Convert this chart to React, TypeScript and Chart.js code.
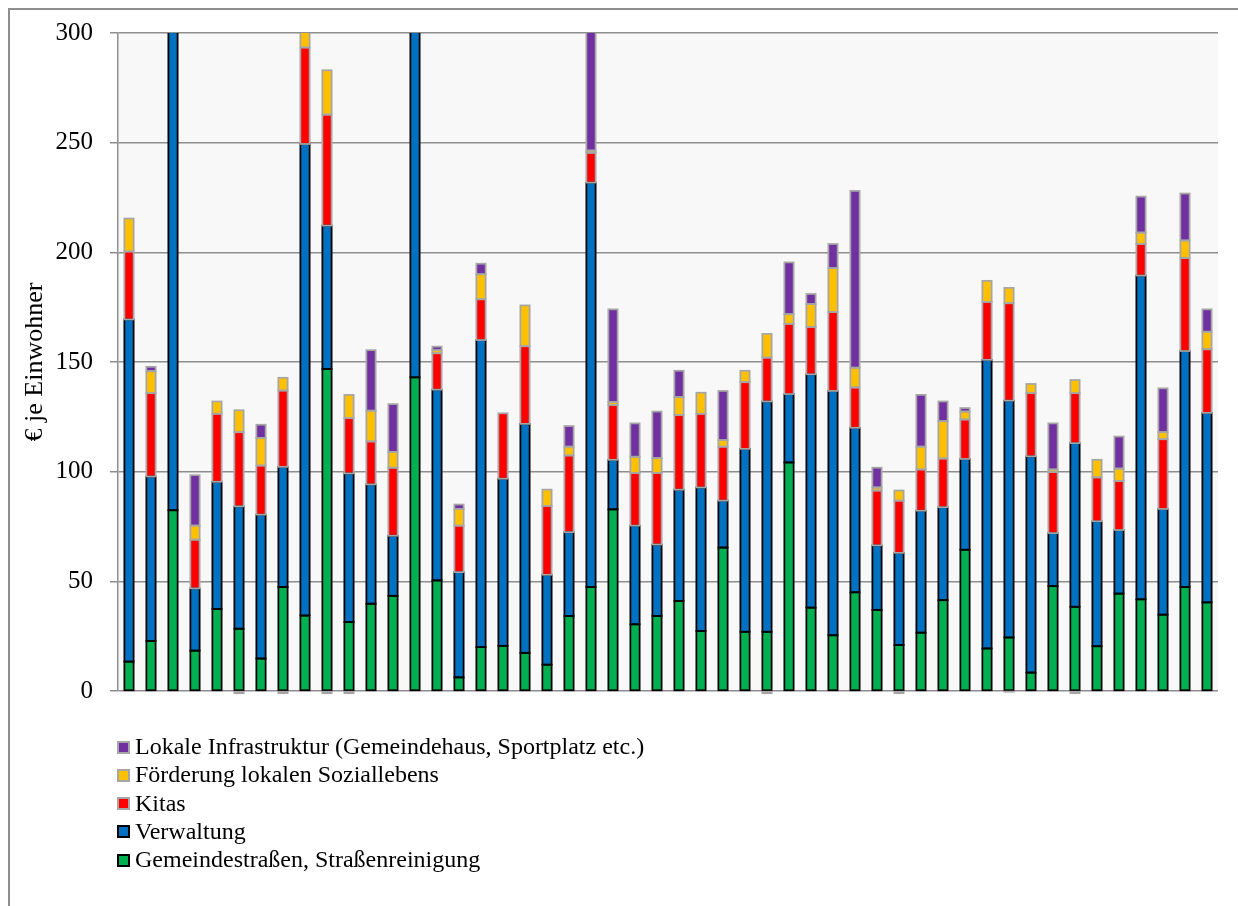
import React, { useEffect, useRef } from "react";
import { Chart, registerables } from "chart.js";

Chart.register(...registerables);

// Gemeinden (no visible labels on the category axis)
const gemeinden = [
  "1", "2", "3", "4", "5", "6", "7", "8", "9", "10",
  "11", "12", "13", "14", "15", "16", "17", "18", "19", "20",
  "21", "22", "23", "24", "25", "26", "27", "28", "29", "30",
  "31", "32", "33", "34", "35", "36", "37", "38", "39", "40",
  "41", "42", "43", "44", "45", "46", "47", "48", "49", "50",
];

// € je Einwohner per Aufgabenbereich
const strassen = [
  13.4, 22.8, 82.4, 18.4, 37.4, 28.4, 14.8, 47.4, 34.4, 146.8,
  31.4, 39.8, 43.4, 143, 50.4, 6.2, 20, 20.6, 17.4, 12,
  34.2, 47.4, 82.8, 30.4, 34.2, 41, 27.4, 65.4, 27, 27,
  104.2, 38, 25.4, 45, 37, 21, 26.6, 41.4, 64.4, 19.4,
  24.4, 8.4, 47.8, 38.4, 20.4, 44.4, 41.8, 34.8, 47.4, 40.4,
];
const verwaltung = [
  156, 75, 247.6, 28.4, 58, 55.8, 65.6, 54.8, 215, 65.4,
  67.8, 54.4, 27.4, 187, 87, 48, 140, 76.2, 104.4, 41,
  38.2, 184.4, 22.6, 45, 32.6, 50.8, 65.4, 21.4, 83.4, 105,
  31.2, 106.4, 111.4, 75, 29.4, 42, 55.6, 42.4, 41.4, 131.6,
  108, 98.6, 24.2, 74.6, 57, 29, 147.6, 48.2, 107.6, 86.4,
];
const kitas = [
  31, 38, null, 22.2, 31, 33.8, 22.4, 34.8, 44, 50.6,
  25.2, 19.6, 31, null, 16.6, 21.2, 18.6, 29.8, 35.4, 31.4,
  35, 13.6, 25, 24, 32.6, 34, 33.6, 24.6, 30.4, 20,
  32, 21.6, 36, 18.4, 25, 23.8, 18.8, 22.2, 18, 26.4,
  44.4, 28.8, 27.8, 22.8, 20, 22.4, 14.4, 31.8, 42.4, 29,
];
const sozialleben = [
  15, 10, null, 6.4, 5.6, 10, 12.6, 5.8, 11.6, 20.2,
  10.6, 14, 7.2, null, 1.4, 7.6, 11.4, null, 18.6, 7.4,
  4, 1, 1.4, 7.4, 6.8, 8.2, 9.6, 3, 5.2, 10.8,
  4.4, 10.4, 20, 9, 1.4, 4.6, 10.4, 17, 3.6, 9.6,
  7, 4.2, 1.2, 6, 8, 5.6, 5.2, 3.2, 8, 8,
];
const infrastruktur = [
  null, 2, null, 23, null, -1, 6, -1, null, -1,
  -1, 27.6, 21.8, null, 1.6, 2, 4.8, null, null, null,
  9.4, 73.6, 42.2, 15.2, 21.2, 12, null, 22.4, null, -1,
  23.6, 4.6, 11, 80.6, 9, -1, 23.6, 9, 1.6, null,
  -0.3, null, 21, -1, null, 14.6, 16.4, 20, 21.4, 10.2,
];

const yTicks = [0, 50, 100, 150, 200, 250, 300];

const SERIF = "'Liberation Serif', 'Times New Roman', serif";

type Serie = {
  label: string;
  data: (number | null)[];
  fill: string;
  border: string;
};

const serien: Serie[] = [
  { label: "Gemeindestraßen, Straßenreinigung", data: strassen, fill: "#00B050", border: "#000000" },
  { label: "Verwaltung", data: verwaltung, fill: "#0070C0", border: "#000000" },
  { label: "Kitas", data: kitas, fill: "#FF0000", border: "#A6A6A6" },
  { label: "Förderung lokalen Soziallebens", data: sozialleben, fill: "#FFC000", border: "#A6A6A6" },
  { label: "Lokale Infrastruktur (Gemeindehaus, Sportplatz etc.)", data: infrastruktur, fill: "#7030A0", border: "#A6A6A6" },
];

const OUTLINE = 1.75;
const BELOW_ZERO = 6;

const plotBackground = {
  id: "plotBackground",
  beforeDraw(chart: any) {
    const { ctx, chartArea } = chart;
    if (!chartArea) return;
    ctx.save();
    ctx.fillStyle = "#F8F8F8";
    ctx.fillRect(chartArea.left, chartArea.top, chartArea.right - chartArea.left, chartArea.bottom - chartArea.top);
    ctx.restore();
  },
};

// Outlines each stacked segment with a stroke centred on its edges,
// so that neighbouring segments share one line.
const segmentOutlines = {
  id: "segmentOutlines",
  afterDatasetsDraw(chart: any) {
    const { ctx, chartArea } = chart;
    ctx.save();
    ctx.beginPath();
    ctx.rect(chartArea.left, chartArea.top, chartArea.right - chartArea.left, chartArea.bottom - chartArea.top + BELOW_ZERO);
    ctx.clip();
    ctx.lineWidth = OUTLINE;
    chart.data.datasets.forEach((ds: any, i: number) => {
      const meta = chart.getDatasetMeta(i);
      if (meta.hidden) return;
      ctx.strokeStyle = serien[i].border;
      meta.data.forEach((el: any, j: number) => {
        const v = ds.data[j];
        if (v === null || v === undefined) return;
        const { x, y, base, width } = el.getProps(["x", "y", "base", "width"], true);
        const top = Math.min(y, base);
        const h = Math.abs(base - y);
        ctx.strokeRect(x - width / 2, top, width, h);
      });
    });
    ctx.restore();
  },
};

export default function App() {
  const canvasRef = useRef<HTMLCanvasElement | null>(null);

  useEffect(() => {
    document.documentElement.style.overflow = "hidden";
    document.body.style.overflow = "hidden";
    if (!canvasRef.current) return;
    const chart = new Chart(canvasRef.current, {
      type: "bar",
      data: {
        labels: gemeinden,
        datasets: serien.map((s) => ({
          label: s.label,
          data: s.data,
          backgroundColor: s.fill,
          borderWidth: 0,
          barPercentage: 0.42,
          categoryPercentage: 1,
          clip: { left: 0, top: 0, right: 0, bottom: BELOW_ZERO },
        })),
      },
      options: {
        animation: false,
        responsive: false,
        maintainAspectRatio: false,
        layout: { padding: { top: 23, right: 20, bottom: 215, left: 0 } },
        plugins: {
          legend: { display: false },
          tooltip: { enabled: false },
          title: { display: false },
        },
        scales: {
          x: {
            stacked: true,
            display: false,
          },
          y: {
            stacked: true,
            min: 0,
            max: 300,
            afterBuildTicks(scale: any) {
              scale.ticks = yTicks.map((v) => ({ value: v }));
            },
            afterFit(scale: any) {
              scale.width = 108;
              scale.paddingTop = 0;
              scale.paddingBottom = 0;
            },
            grid: {
              color: "#8E8E8E",
              lineWidth: 1.5,
              tickLength: 8,
              drawTicks: true,
            },
            border: { display: true, color: "#8E8E8E", width: 1.5 },
            ticks: {
              padding: 17,
              color: "#000000",
              font: { family: SERIF, size: 25 },
            },
            title: {
              display: true,
              text: "€ je Einwohner",
              color: "#000000",
              font: { family: SERIF, size: 26 },
              padding: { top: 10, bottom: 0 },
            },
          },
        },
      },
      plugins: [plotBackground, segmentOutlines],
    });
    return () => chart.destroy();
  }, []);

  const legendItems = [...serien].reverse();

  return (
    <div
      style={{
        position: "fixed",
        left: 8,
        top: 8,
        right: 0,
        bottom: 0,
        boxSizing: "border-box",
        borderLeft: "2px solid #8E8E8E",
        borderTop: "2px solid #8E8E8E",
        background: "#FFFFFF",
        overflow: "hidden",
      }}
    >
      <canvas ref={canvasRef} width={1228} height={896} style={{ display: "block" }} />
      <div
        style={{
          position: "absolute",
          left: 107,
          top: 722,
          fontFamily: SERIF,
          fontSize: 24,
          color: "#000000",
          lineHeight: "28.25px",
        }}
      >
        {legendItems.map((s) => (
          <div key={s.label} style={{ display: "flex", alignItems: "center", height: 28.25, whiteSpace: "nowrap" }}>
            <span
              style={{
                display: "inline-block",
                width: 13,
                height: 13,
                boxSizing: "border-box",
                background: s.fill,
                border: `2px solid ${s.border}`,
                marginRight: 5,
                marginTop: 2,
              }}
            />
            <span>{s.label}</span>
          </div>
        ))}
      </div>
    </div>
  );
}
